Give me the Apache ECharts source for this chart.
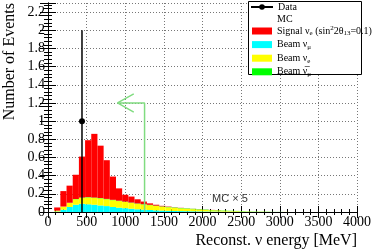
<!DOCTYPE html>
<html><head><meta charset="utf-8">
<script src="https://cdn.jsdelivr.net/npm/echarts@6/dist/echarts.min.js"></script>
<style>html,body{margin:0;padding:0;background:#fff}#c{width:374px;height:249px}</style>
</head><body><div id="c"></div>
<script>
// Histogram binning (MeV)
const binWidth = 80;
const binCount = 50;
// Stacked MC components per bin (events), bins 0-80, 80-160, ...
const beamNumu = [0,0.005,0.025,0.055,0.08,0.09,0.085,0.08,0.072,0.065,0.055,0.048,0.042,0.036,0.03,0.026,0.022,0.018,0.015,0.013,0.011,0.01,0.009,0.008,0.007,0.006,0.005,0.005,0.004,0.004,0.003,0.003,0.002,0.002,0.001,0.001,0.001,0.001,0,0,0,0,0,0,0,0,0,0,0,0];
const beamNue = [0,0.01,0.035,0.045,0.06,0.065,0.075,0.075,0.078,0.075,0.075,0.072,0.068,0.064,0.06,0.056,0.053,0.048,0.043,0.039,0.035,0.03,0.027,0.023,0.02,0.017,0.014,0.012,0.01,0.008,0.007,0.005,0.004,0.003,0.003,0.002,0.001,0.001,0.001,0,0,0,0,0,0,0,0,0,0,0];
const beamNumubar = [0,0,0,0.002,0.003,0.004,0.004,0.004,0.004,0.004,0.004,0.004,0.004,0.004,0.004,0.004,0.004,0.004,0.004,0.004,0.004,0.004,0.004,0.004,0.004,0.004,0.003,0.003,0.003,0.002,0.002,0.002,0.001,0.001,0.001,0.001,0,0,0,0,0,0,0,0,0,0,0,0,0,0];
const signalNue = [0,0.035,0.17,0.188,0.267,0.451,0.626,0.701,0.576,0.426,0.256,0.136,0.076,0.066,0.046,0.029,0.016,0.01,0.006,0.004,0.002,0.002,0.001,0.001,0.001,0.001,0.001,0.001,0,0,0,0,0,0,0,0,0,0,0,0,0,0,0,0,0,0,0,0,0,0];
// Data
const dataEnergy = [440];
const dataEvents = [1];
const dataErrLow = [0];
const dataErrHigh = [2];
// Cut annotation
const cutEnergy = 1250;
const arrowY = 1.2;
const arrowTip = 900;
const arrowWing = 1110;
const arrowWingHalf = 0.1;
// Axis ticks
const xTicks = [0,500,1000,1500,2000,2500,3000,3500,4000];
const yTicks = [0,0.2,0.4,0.6,0.8,1,1.2,1.4,1.6,1.8,2,2.2];

const serif = 'Liberation Serif';
const stackOrder = [beamNumu, beamNue, beamNumubar, signalNue];
const cum = new Array(binCount).fill(0);
const stackData = stackOrder.map(arr => {
  const d = [];
  for (let i = 0; i < binCount; i++) {
    const y0 = cum[i], y1 = cum[i] + arr[i];
    d.push([i*binWidth, (i+1)*binWidth, y0, y1]);
    cum[i] = y1;
  }
  return d;
});
function histSeries(name, idx, color){
  return {
    type:'custom', name:name, xAxisIndex:0, yAxisIndex:0, z:2,
    itemStyle:{color:color},
    encode:{x:[0,1], y:[2,3]},
    data: stackData[idx],
    renderItem:function(params, api){
      const x0=api.value(0), x1=api.value(1), y0=api.value(2), y1=api.value(3);
      if (!(y1 > y0)) return null;
      const p0 = api.coord([x0, y1]);
      const p1 = api.coord([x1, y0]);
      return {type:'rect', shape:{x:p0[0], y:p0[1], width:p1[0]-p0[0], height:p1[1]-p0[1]}, style:{fill:color}};
    }
  };
}
const rich = {
  n:{fontFamily:serif, fontSize:10, color:'#000', lineHeight:12},
  s:{fontFamily:serif, fontSize:7, color:'#000', verticalAlign:'bottom', lineHeight:12, padding:[4,0,0,0]},
  p:{fontFamily:serif, fontSize:7, color:'#000', verticalAlign:'top', lineHeight:12, padding:[0,0,4,0]}
};
const labelMap = {
  'Signal':'{n|Signal ν}{s|e}{n| (sin}{p|2}{n|2θ}{s|13}{n|=0.1)}',
  'Beam numu':'{n|Beam ν}{s|μ}',
  'Beam nue':'{n|Beam ν}{s|e}',
  'Beam numubar':'{n|Beam ν\u0305}{s|μ}',
  'Data':'{n|Data}'
};
const chart = echarts.init(document.getElementById('c'), null, {renderer:'canvas'});
const tickFmt = v => String(v);
chart.setOption({
  animation:false,
  backgroundColor:'#fff',
  grid:{left:48, right:13, top:1, bottom:37},
  xAxis:[
    {type:'value', min:xTicks[0], max:xTicks[xTicks.length-1], interval:xTicks[1]-xTicks[0], position:'bottom',
      axisLine:{show:true, lineStyle:{color:'#000', width:1}},
      axisTick:{show:true, inside:true, length:6, lineStyle:{color:'#000'}},
      minorTick:{show:true, splitNumber:5, length:3, lineStyle:{color:'#000'}},
      axisLabel:{fontFamily:serif, fontSize:14, color:'#000', margin:3, formatter:tickFmt},
      splitLine:{show:true, lineStyle:{color:'#777', type:[1,2], width:1}},
      name:'Reconst. ν energy [MeV]', nameLocation:'end', nameGap:0,
      nameTextStyle:{fontFamily:serif, fontSize:16, color:'#000', align:'right', verticalAlign:'top', padding:[21,0,0,0]}
    },
    {type:'value', min:xTicks[0], max:xTicks[xTicks.length-1], interval:xTicks[1]-xTicks[0], position:'top',
      axisLine:{show:true, lineStyle:{color:'#000', width:1}},
      axisTick:{show:true, inside:true, length:6, lineStyle:{color:'#000'}},
      minorTick:{show:true, splitNumber:5, length:3, lineStyle:{color:'#000'}},
      axisLabel:{show:false}, splitLine:{show:false}}
  ],
  yAxis:[
    {type:'value', min:0, max:2.3, interval:yTicks[1]-yTicks[0], position:'left',
      axisLine:{show:true, lineStyle:{color:'#000', width:1}},
      axisTick:{show:true, inside:true, length:8, lineStyle:{color:'#000'}},
      minorTick:{show:true, splitNumber:5, length:4, lineStyle:{color:'#000'}},
      axisLabel:{fontFamily:serif, fontSize:14, color:'#000', margin:3, showMaxLabel:false},
      splitLine:{show:true, lineStyle:{color:'#777', type:[1,2], width:1}},
      name:'Number of Events', nameLocation:'end', nameGap:0, nameRotate:90,
      nameTextStyle:{fontFamily:serif, fontSize:16, color:'#000', align:'right', verticalAlign:'bottom', padding:[0,0,30,0]}
    },
    {type:'value', min:0, max:2.3, interval:yTicks[1]-yTicks[0], position:'right',
      axisLine:{show:true, lineStyle:{color:'#000', width:1}},
      axisTick:{show:true, inside:true, length:8, lineStyle:{color:'#000'}},
      minorTick:{show:true, splitNumber:5, length:4, lineStyle:{color:'#000'}},
      axisLabel:{show:false}, splitLine:{show:false}}
  ],
  legend:[
    {data:['Data'], orient:'vertical', left:250, top:2, padding:0, itemWidth:22, itemHeight:7, itemGap:0,
      selectedMode:false, formatter:n=>labelMap[n], textStyle:{rich:rich}, z:10},
    {data:['Signal','Beam numu','Beam nue','Beam numubar'], orient:'vertical', left:252, top:25, padding:0, itemWidth:20, itemHeight:7, itemGap:2.6,
      selectedMode:false, icon:'rect', formatter:n=>labelMap[n], textStyle:{rich:rich}, z:10}
  ],
  graphic:[
    {type:'rect', left:248, top:1, z:5, shape:{width:113, height:73}, style:{fill:'#fff', stroke:'#000', lineWidth:1}},
    {type:'text', left:277, top:14, z:11, style:{text:'MC', font:'10px "Liberation Serif"', fill:'#000'}},
    {type:'text', left:212, top:193, z:11, style:{text:'MC × 5', font:'11px "Liberation Sans"', fill:'#333'}}
  ],
  series:[
    histSeries('Beam numu', 0, '#00ffff'),
    histSeries('Beam nue', 1, '#ffff00'),
    histSeries('Beam numubar', 2, '#00ff00'),
    histSeries('Signal', 3, '#ff0000'),
    {type:'line', name:'cut', xAxisIndex:0, yAxisIndex:0, z:3, symbol:'none', silent:true,
      lineStyle:{color:'#80dc80', width:1.5},
      data:[[cutEnergy,0],[cutEnergy,arrowY],[arrowTip,arrowY]]},
    {type:'line', name:'cutArrow', xAxisIndex:0, yAxisIndex:0, z:3, symbol:'none', silent:true,
      lineStyle:{color:'#80dc80', width:1.5},
      data:[[arrowWing,arrowY+arrowWingHalf],[arrowTip,arrowY],[arrowWing,arrowY-arrowWingHalf]]},
    {type:'custom', name:'DataErr', xAxisIndex:0, yAxisIndex:0, z:4,
      data:dataEnergy.map((e,i)=>[e,dataErrLow[i],dataErrHigh[i]]),
      renderItem:function(params, api){
        const a = api.coord([api.value(0), api.value(1)]);
        const b = api.coord([api.value(0), api.value(2)]);
        return {type:'line', shape:{x1:a[0], y1:a[1], x2:b[0], y2:b[1]}, style:{stroke:'#000', lineWidth:1.5}};
      }},
    {type:'line', name:'Data', xAxisIndex:0, yAxisIndex:0, z:5, symbol:'circle', symbolSize:6,
      itemStyle:{color:'#000'}, lineStyle:{color:'#000', width:1.5},
      data:dataEnergy.map((e,i)=>[e,dataEvents[i]])}
  ]
});
</script></body></html>
